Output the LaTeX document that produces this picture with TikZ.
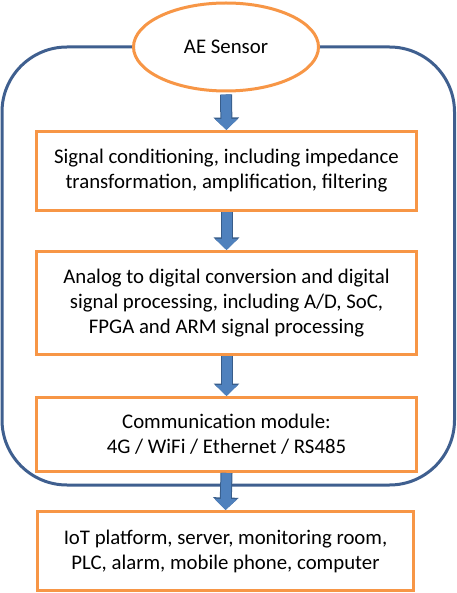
\documentclass[tikz,border=0pt]{standalone}
\usepackage{fontspec}
\setmainfont{Carlito}
\usepackage{tikz}
\usetikzlibrary{arrows.meta,shapes.geometric}
\definecolor{colorbox}{HTML}{F79646}
\definecolor{colorframe}{HTML}{3F5F8F}
\definecolor{colorarrow}{HTML}{4F81BD}
\definecolor{colorarrowedge}{HTML}{385D8A}
\tikzset{
  stage/.style={draw=colorbox, line width=3pt, fill=white, align=center, inner sep=0pt,
    font=\fontsize{20.8}{25}\selectfont},
  sensor/.style={ellipse, draw=colorbox, line width=3pt, fill=white, inner sep=0pt,
    font=\fontsize{20.8}{25}\selectfont},
  frame/.style={draw=colorframe, line width=3pt, rounded corners=65pt},
  flow/.style={colorarrow, line width=10pt, -{Triangle[width=22pt,length=11pt]},
    preaction={draw=colorarrowedge, line width=12pt, -{Triangle[width=25pt,length=12.5pt]}}}
}

\begin{document}
\begin{tikzpicture}[x=1pt, y=-1pt]
\useasboundingbox (0,0) rectangle (456,593);
\draw[frame] (2,47) rectangle (454.5,485);
\node[sensor, minimum width=185pt, minimum height=88pt] (ae) at (226,47) {AE Sensor};
\node[stage, minimum width=380pt, minimum height=79pt] (cond) at (226.5,171)
  {Signal conditioning, including impedance\\ transformation, amplification, filtering};
\node[stage, minimum width=380pt, minimum height=103pt] (adc) at (226.5,303)
  {Analog to digital conversion and digital\\ signal processing, including A/D, SoC,\\ FPGA and ARM signal processing};
\node[stage, minimum width=380pt, minimum height=74pt] (comm) at (226.5,434.5)
  {Communication module:\\ 4G / WiFi / Ethernet / RS485};
\node[stage, minimum width=376pt, minimum height=79pt] (iot) at (225.5,551)
  {IoT platform, server, monitoring room,\\ PLC, alarm, mobile phone, computer};
\draw[flow] (ae.south) ++(0,2) -- (cond.north);
\draw[flow] (cond.south) -- (adc.north);
\draw[flow] (adc.south) -- (comm.north);
\draw[flow] (comm.south) -- (iot.north);
\end{tikzpicture}
\end{document}
